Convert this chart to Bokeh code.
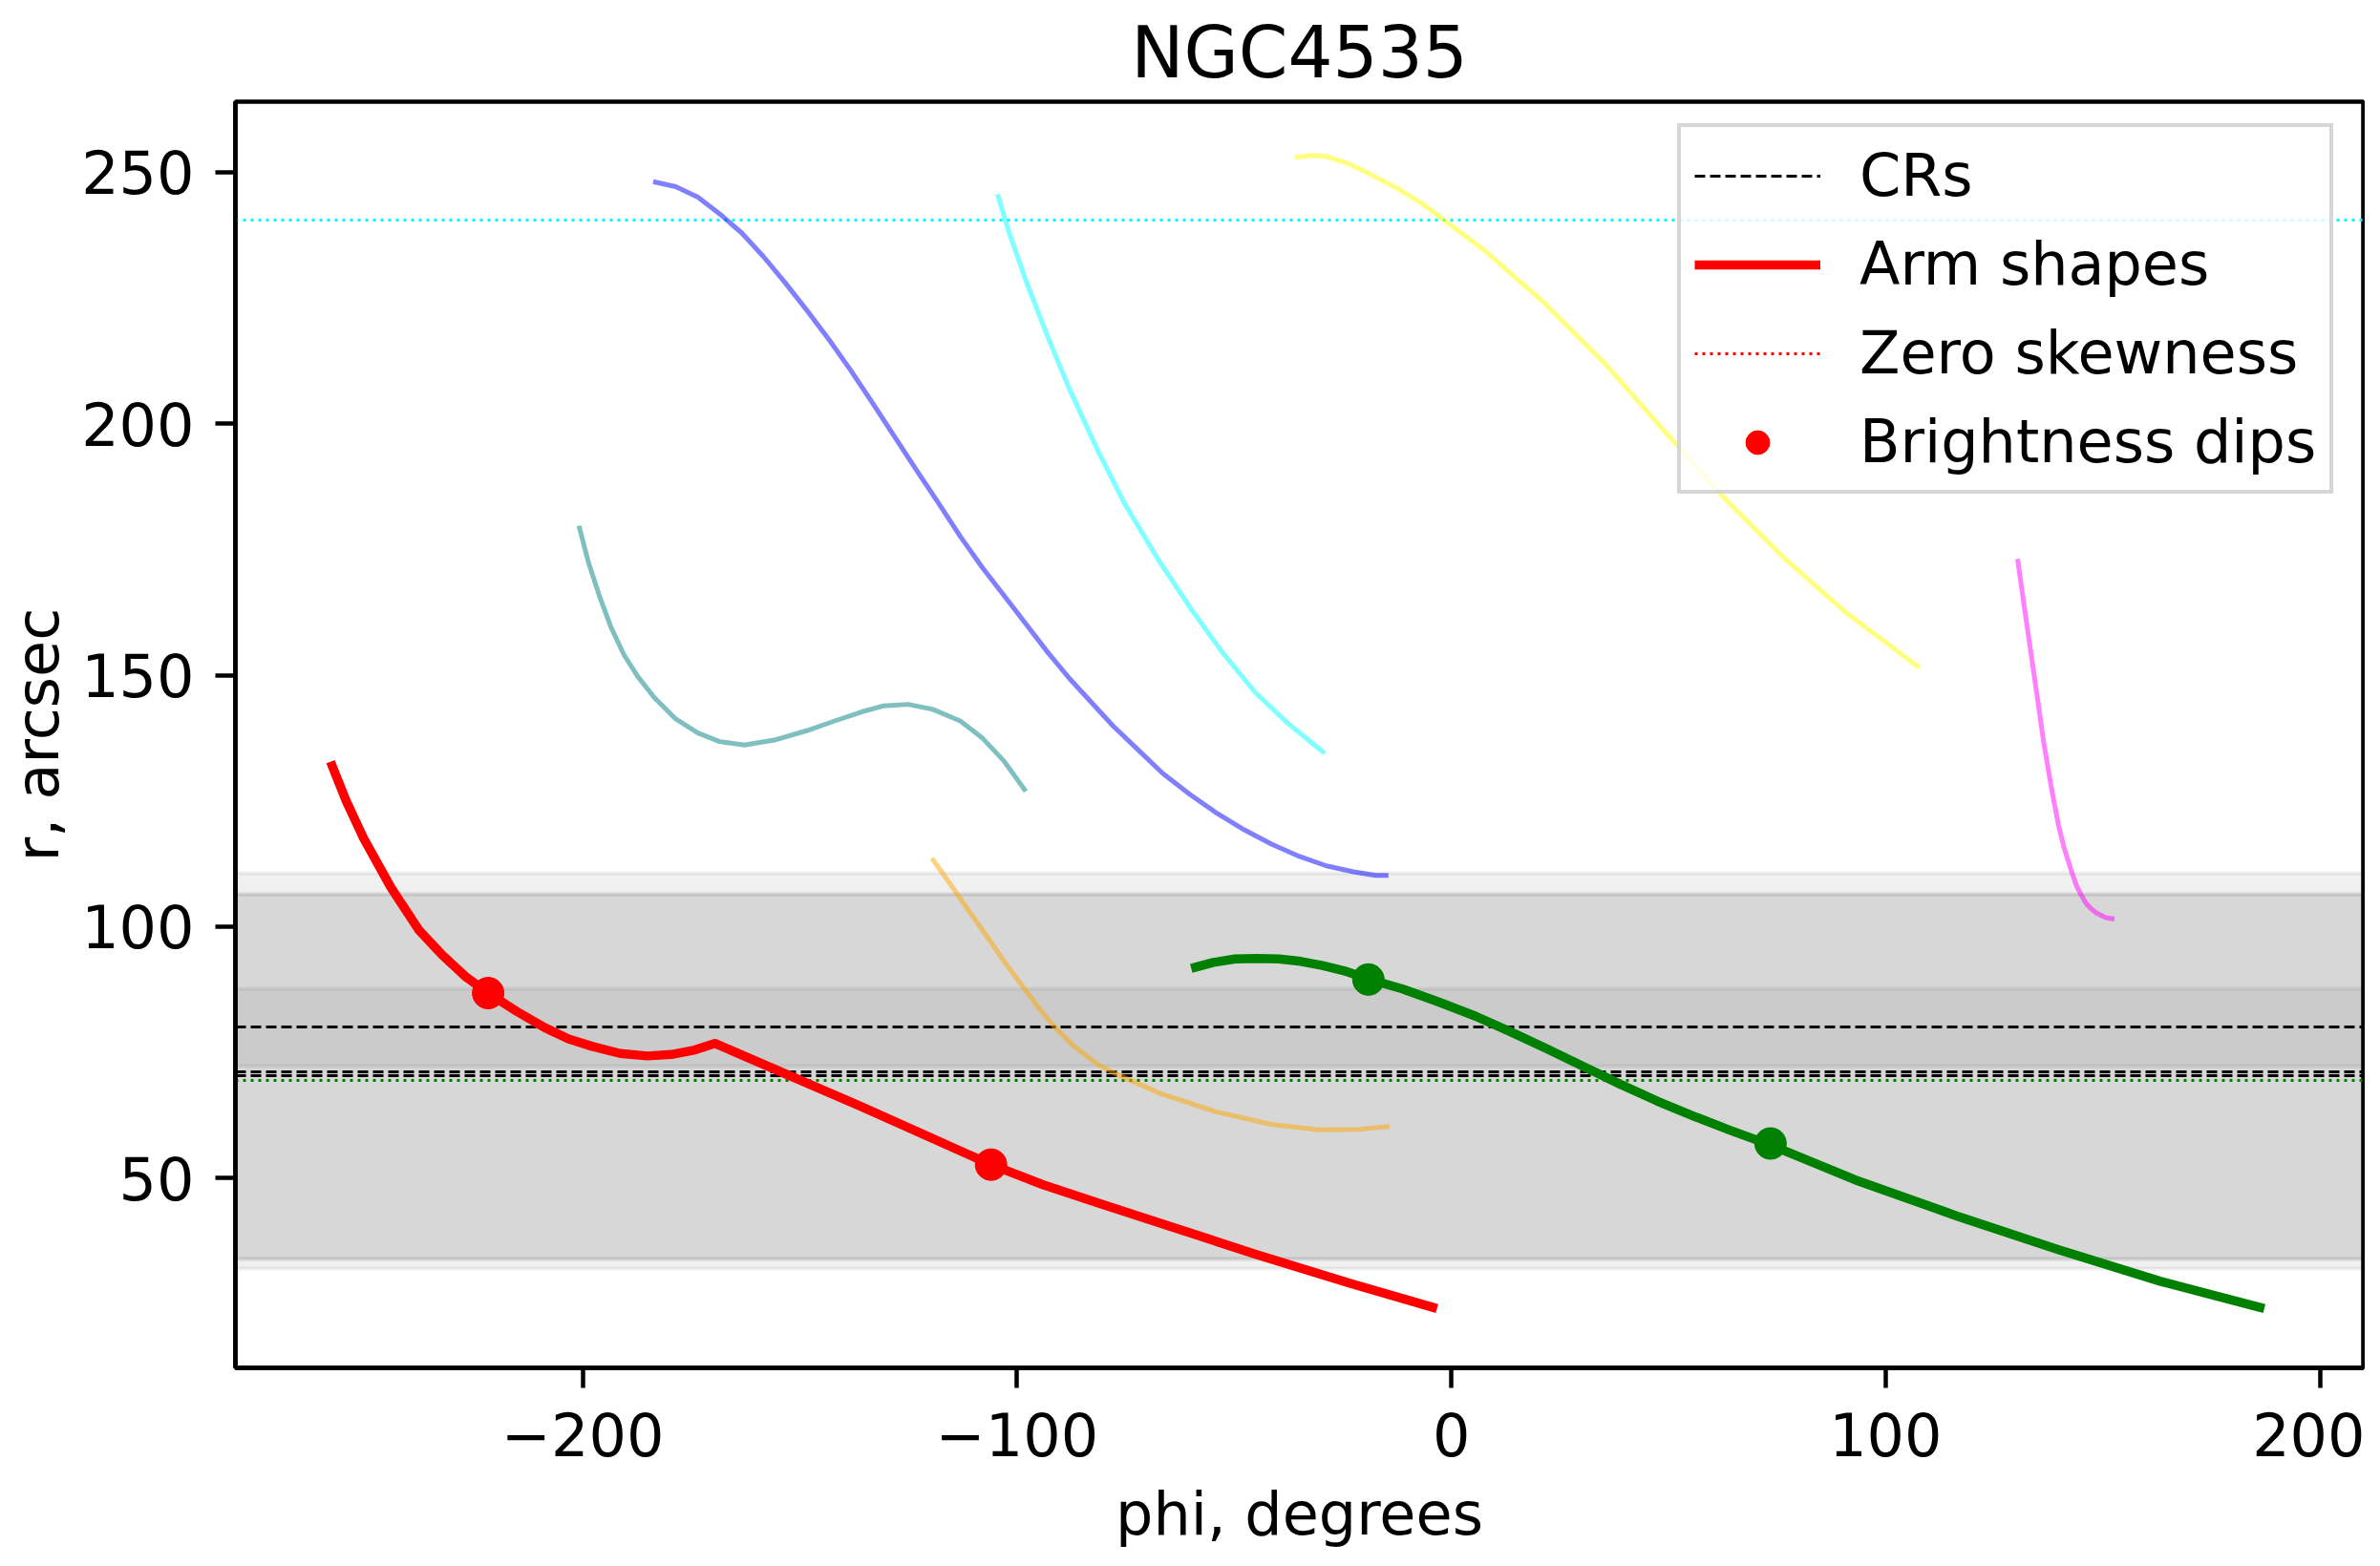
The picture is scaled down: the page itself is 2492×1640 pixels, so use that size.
from bokeh.plotting import figure
from bokeh.models import Legend, LegendItem, Range1d, FixedTicker
from bokeh.embed import file_html
from bokeh.resources import INLINE

# ---------------- data ----------------
title_text = "NGC4535"
x_label = "phi, degrees"
y_label = "r, arcsec"
x_ticks = [-200, -100, 0, 100, 200]
y_ticks = [50, 100, 150, 200, 250]

# main arms (thick)
red_phi = [-258.1, -254.5, -250.5, -244.2, -237.8, -232.4, -226.9, -221.8, -215.1, -208.7,
           -203.3, -197.8, -191.4, -185.1, -179.6, -174.2, -169.6, -136.0, -106.0, -94.0,
           -81.4, -63.3, -45.1, -23.3, -3.3]
red_r = [132.8, 125.0, 117.6, 107.8, 99.4, 94.4, 90.0, 86.8, 83.1, 79.9,
         77.7, 76.2, 74.8, 74.3, 74.6, 75.5, 76.8, 64.3, 52.7, 48.7,
         45.1, 40.0, 34.9, 29.1, 24.1]

green_phi = [-59.9, -54.8, -49.8, -44.8, -39.7, -34.7, -29.7, -24.6, -19.1, -11.2,
             -2.8, 5.6, 13.9, 22.3, 30.7, 39.1, 47.5, 55.9, 64.3, 73.5,
             92.9, 116.4, 139.8, 163.3, 187.2]
green_r = [91.7, 92.9, 93.6, 93.7, 93.6, 93.1, 92.3, 91.2, 89.6, 87.6,
           85.0, 82.2, 79.0, 75.6, 72.1, 68.6, 65.3, 62.3, 59.5, 56.6,
           49.7, 42.5, 35.8, 29.5, 24.1]

# secondary arms (thin, semi-transparent)
teal_phi = [-200.9, -198.7, -196.2, -193.6, -190.5, -187.4, -183.6, -178.6, -173.5, -168.5,
            -162.8, -155.9, -148.3, -142.0, -135.8, -130.7, -125.1, -119.4, -113.1, -108.1,
            -103.0, -98.0]
teal_r = [179.7, 172.4, 165.8, 159.7, 154.0, 149.8, 145.6, 141.3, 138.5, 136.8,
          136.1, 137.1, 139.0, 140.9, 142.7, 143.9, 144.2, 143.2, 140.9, 137.6,
          132.9, 126.9]

blue_phi = [-183.8, -178.6, -173.5, -168.5, -163.4, -158.4, -153.4, -148.3, -143.3, -138.3,
            -133.2, -128.2, -123.2, -118.1, -113.1, -108.1, -103.0, -98.0, -92.9, -87.9,
            -82.9, -77.9, -72.8, -66.5, -60.2, -53.9, -47.6, -41.4, -35.1, -28.8,
            -22.5, -17.5, -14.5]
blue_r = [248.1, 247.1, 245.0, 241.7, 237.9, 233.2, 228.0, 222.4, 216.7, 210.6,
          204.0, 197.4, 190.8, 184.2, 177.6, 171.5, 165.8, 160.2, 154.5, 149.3,
          144.6, 139.9, 135.7, 130.5, 126.3, 122.5, 119.2, 116.4, 114.0, 112.1,
          110.9, 110.2, 110.2]

cyan_phi = [-104.5, -101.8, -98.0, -92.9, -87.9, -81.6, -75.3, -67.8, -60.2, -52.7,
            -45.1, -37.6, -29.2]
cyan_r = [245.6, 237.9, 228.5, 217.2, 206.8, 195.0, 184.2, 173.4, 163.5, 154.5,
          146.5, 140.4, 134.5]

yellow_phi = [-36.1, -32.5, -29.2, -24.0, -18.7, -12.5, -6.5, 7.4, 21.4, 35.3,
              49.2, 63.2, 77.1, 91.1, 107.8]
yellow_r = [252.9, 253.3, 253.2, 251.8, 249.6, 246.8, 243.6, 234.6, 224.0, 212.0,
            198.4, 184.9, 172.9, 162.3, 151.5]

orange_phi = [-119.6, -115.5, -111.4, -106.9, -102.4, -97.8, -94.6, -91.4, -86.9, -81.4,
              -76.9, -66.9, -54.2, -41.4, -30.5, -21.5, -14.2]
orange_r = [113.6, 108.6, 103.5, 98.0, 92.4, 87.1, 83.4, 80.1, 76.2, 72.6,
            70.6, 66.8, 63.2, 60.7, 59.6, 59.7, 60.3]

magenta_phi = [130.4, 131.7, 132.9, 134.7, 136.4, 138.1, 139.8, 141.0, 142.0, 143.0,
               144.0, 145.1, 146.2, 147.4, 148.6, 150.7, 152.7]
magenta_r = [173.1, 165.0, 157.8, 147.0, 136.7, 128.0, 120.2, 116.0, 113.2, 110.5,
             108.1, 106.2, 104.6, 103.5, 102.7, 101.8, 101.5]

# brightness dips
red_dip_phi = [-221.8, -106.0]
red_dip_r = [86.8, 52.7]
green_dip_phi = [-19.1, 73.5]
green_dip_r = [89.5, 56.9]

# corotation radii and their uncertainty bands
cr_r = [80.1, 71.2, 70.4]
band_lo = [32.0, 34.0, 72.2]
band_hi = [110.7, 106.4, 87.6]

# zero-skewness radii
zero_skew_cyan = [240.5]
zero_skew_green = [69.5]

NAN = [float("nan")]   # legend-only renderers draw nothing in the plot

# ---------------- styles ----------------
FONT = "DejaVu Sans"
band_alphas = [0.06, 0.10, 0.055]

p = figure(width=2476, height=1624, output_backend="svg", toolbar_location=None,
           x_range=Range1d(-280.0, 210.0), y_range=Range1d(12.3, 264.0),
           min_border_left=239, min_border_right=2, min_border_top=106, min_border_bottom=190,
           background_fill_color="white", border_fill_color="white")

p.title.text = title_text
p.title.align = "center"
p.title.text_font = FONT
p.title.text_font_size = "74px"
p.title.text_font_style = "normal"
p.title.text_color = "black"
p.title.standoff = 18

p.xgrid.visible = False
p.ygrid.visible = False
p.outline_line_color = "black"
p.outline_line_width = 4.5

for ax in (p.xaxis[0], p.yaxis[0]):
    ax.axis_line_width = 4.5
    ax.axis_line_color = "black"
    ax.major_tick_line_width = 4.5
    ax.major_tick_line_color = "black"
    ax.major_tick_out = 21
    ax.major_tick_in = 0
    ax.minor_tick_line_color = None
    ax.major_label_text_font = FONT
    ax.major_label_text_font_size = "62px"
    ax.major_label_text_color = "black"
    ax.axis_label_text_font = FONT
    ax.axis_label_text_font_size = "62px"
    ax.axis_label_text_font_style = "normal"
    ax.axis_label_text_color = "black"

p.xaxis.ticker = FixedTicker(ticks=x_ticks)
p.yaxis.ticker = FixedTicker(ticks=y_ticks)
p.xaxis.major_label_overrides = {t: str(t).replace("-", "\u2212") for t in x_ticks}
p.yaxis.major_label_overrides = {t: str(t) for t in y_ticks}
p.xaxis.axis_label = x_label
p.yaxis.axis_label = y_label
p.xaxis.major_label_standoff = 25
p.xaxis.axis_label_standoff = 21
p.yaxis.major_label_standoff = 22
p.yaxis.axis_label_standoff = 6

# bands
for lo, hi, a in zip(band_lo, band_hi, band_alphas):
    p.hstrip(y0=[lo], y1=[hi], fill_color="black", fill_alpha=a,
             line_color="black", line_alpha=a, line_width=4)

# CR lines
p.hspan(y=cr_r, line_color="black", line_width=3, line_dash="11 5")

# zero skewness
p.hspan(y=zero_skew_cyan, line_color="cyan", line_width=3, line_dash="3 5")
p.hspan(y=zero_skew_green, line_color="green", line_width=3, line_dash="3 5")

# secondary arms
for xs, ys, c in [(teal_phi, teal_r, "teal"), (blue_phi, blue_r, "blue"),
                  (cyan_phi, cyan_r, "cyan"), (yellow_phi, yellow_r, "yellow"),
                  (orange_phi, orange_r, "orange"), (magenta_phi, magenta_r, "magenta")]:
    p.line(xs, ys, line_color=c, line_alpha=0.5, line_width=5, line_join="round")

# main arms
r_red = p.line(red_phi, red_r, line_color="red", line_width=9.5, line_join="round")
p.line(green_phi, green_r, line_color="green", line_width=9.5, line_join="round")

r_rdip = p.scatter(red_dip_phi, red_dip_r, marker="circle", size=33,
                   fill_color="red", line_color="red")
p.scatter(green_dip_phi, green_dip_r, marker="circle", size=33,
          fill_color="green", line_color="green")

# legend-only renderers
r_cr_leg = p.line(x=NAN, y=NAN, line_color="black", line_width=3, line_dash="11 5")
r_zs_leg = p.line(x=NAN, y=NAN, line_color="red", line_width=3, line_dash="3 5")

legend = Legend(items=[
    LegendItem(label="CRs", renderers=[r_cr_leg]),
    LegendItem(label="Arm shapes", renderers=[r_red]),
    LegendItem(label="Zero skewness", renderers=[r_zs_leg]),
    LegendItem(label="Brightness dips", renderers=[r_rdip]),
], location=(1510, 915))
legend.label_text_font = FONT
legend.label_text_font_size = "62px"
legend.label_text_color = "black"
legend.label_height = 62
legend.glyph_height = 62
legend.glyph_width = 132
legend.label_standoff = 41
legend.spacing = 20
legend.padding = 14
legend.margin = 0
legend.background_fill_color = "white"
legend.background_fill_alpha = 0.8
legend.border_line_color = "#cccccc"
legend.border_line_width = 4
legend.border_line_alpha = 0.8
p.add_layout(legend, "center")

open("out.html", "w").write(file_html(p, INLINE))
